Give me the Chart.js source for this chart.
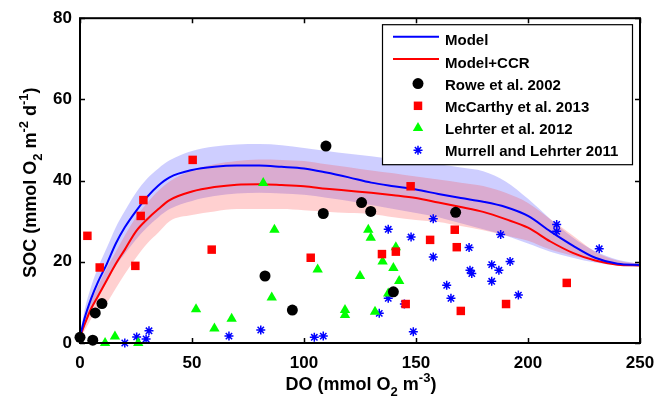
<!DOCTYPE html>
<html><head><meta charset="utf-8">
<script src="https://cdn.jsdelivr.net/npm/chart.js@4.4.1/dist/chart.umd.min.js"></script>
<style>html,body{margin:0;padding:0;background:#fff;}#wrap{position:relative;width:667px;height:401px;}</style>
</head><body><div id="wrap"><canvas id="c" width="667" height="401"></canvas></div>
<script>
// ---------- data ----------
const modelDO     = [0, 2, 5, 8, 12, 16, 20, 25, 30, 35, 40, 50, 60, 70, 80, 90, 100, 110, 120, 130, 140, 150, 160, 170, 180, 190, 200, 210, 220, 230, 240, 250];
const modelSOC    = [1.5, 6, 11, 15, 19.5, 24.5, 28.5, 32.5, 36, 38.8, 40.8, 42.6, 43.4, 43.7, 43.7, 43.4, 43, 42, 40.8, 39.5, 38.6, 37.8, 36.7, 35.7, 34.8, 33.5, 31.3, 27.5, 24, 21, 19.5, 19.2];
const modelHi     = [2, 8, 14, 18.5, 23.5, 28.5, 32.5, 37, 40.5, 43, 45, 47.3, 48.4, 48.9, 49, 48.7, 48, 47.3, 46.6, 46, 45.3, 44.6, 44, 43.2, 42.3, 39.8, 35.5, 30.5, 26, 22.6, 20.5, 19.5];
const modelLo     = [1, 4, 8, 11, 15, 19, 22, 25.5, 28.5, 31, 33, 35, 36.2, 36.8, 37, 36.8, 36.5, 35.8, 35, 34, 33, 32, 31, 29.5, 28, 26.5, 24.5, 22.5, 21, 19.8, 19.1, 18.8];
const ccrSOC      = [1.5, 4.5, 8.5, 11.5, 15.5, 19.5, 23, 27.5, 30.5, 33, 35.2, 37.3, 38.4, 39, 39.1, 38.9, 38.6, 38, 37.5, 37, 36.4, 35.7, 34.6, 33.5, 32.3, 30.5, 28.4, 25, 22.2, 20.3, 19.3, 19.1];
const ccrHi       = [2, 6, 10.5, 14, 18.5, 22.5, 26.5, 31, 34.5, 37.5, 39.8, 42.5, 44, 44.8, 45.2, 45.1, 44.8, 44, 43.3, 42.5, 41.8, 41, 40.3, 39.5, 38.7, 37, 34.5, 30.5, 26.5, 22.5, 20.3, 19.5];
const ccrLo       = [1, 3, 6, 8.5, 10, 13.5, 17, 21, 24.5, 27.2, 30, 31.5, 32.4, 33, 33, 33, 32.7, 32.3, 32, 31.8, 31, 30.3, 29.8, 28.8, 27.8, 26.5, 25.2, 23, 21.5, 20.5, 19.4, 19];

const roweDO      = [0, 5.7, 6.8, 9.8, 82.6, 94.8, 109.8, 108.6, 125.7, 129.8, 139.9, 167.7];
const roweSOC     = [1.4, 0.7, 7.4, 9.7, 16.5, 8.1, 48.5, 31.9, 34.6, 32.4, 12.6, 32.2];
const mccarthyDO  = [3.3, 8.8, 24.7, 27.1, 28.3, 50.3, 58.8, 103, 134.8, 141, 145.4, 147.6, 156.3, 167.3, 168.2, 170, 190.2, 217.3];
const mccarthySOC = [26.4, 18.6, 19, 31.3, 35.2, 45.1, 23, 21, 21.9, 22.5, 9.6, 38.6, 25.4, 27.9, 23.6, 7.9, 9.6, 14.8];
const lehrterDO   = [11.2, 15.6, 26, 51.8, 60, 67.7, 81.8, 86.8, 85.6, 106.1, 118.3, 118.3, 125, 128.7, 129.8, 131.7, 135.1, 137.6, 139.9, 141, 142.5];
const lehrterSOC  = [0, 1.6, 0, 8.3, 3.6, 6, 39.4, 27.9, 11.2, 18.1, 8.1, 6.9, 16.5, 27.9, 25.9, 7.7, 20.1, 12.2, 18.5, 23.6, 15.3];
const murrellDO   = [20, 25.3, 29.5, 30.8, 66.5, 80.7, 104.6, 108.6, 133.6, 137.6, 137.6, 144.8, 147.8, 148.8, 157.7, 157.7, 163.7, 165.6, 173.7, 174.1, 174.9, 183.8, 183.8, 187, 187.8, 192, 195.7, 212.8, 212.8, 231.8];
const murrellSOC  = [0, 1.5, 1, 3, 1.7, 3.2, 1.4, 1.7, 7.3, 11, 28, 9.6, 26.1, 2.8, 30.6, 21.2, 14.2, 11, 23.5, 17.9, 17.1, 19.3, 15.2, 17.9, 26.7, 20.1, 11.8, 29.2, 27.5, 23.2];

const xTicks = [0, 50, 100, 150, 200, 250];
const yTicks = [0, 20, 40, 60, 80];
const xTitle = [{t: 'DO (mmol O'}, {t: '2', sub: true}, {t: ' m'}, {t: '-3', sup: true}, {t: ')'}];
const yTitle = [{t: 'SOC (mmol O'}, {t: '2', sub: true}, {t: ' m'}, {t: '-2', sup: true}, {t: ' d'}, {t: '-1', sup: true}, {t: ')'}];

// ---------- helpers ----------
const FONT = "'Liberation Sans', Arial, Helvetica, sans-serif";
const pts = (xs, ys) => xs.map((x, i) => ({x: x, y: ys[i]}));

function drawRich(ctx, segs, size, x, y) {
  let w = 0;
  const parts = segs.map(s => {
    const fs = (s.sub || s.sup) ? Math.round(size * 0.72) : size;
    ctx.font = 'bold ' + fs + 'px ' + FONT;
    const mw = ctx.measureText(s.t).width;
    w += mw;
    return {s: s, fs: fs, mw: mw};
  });
  let cx = x - w / 2;
  ctx.textAlign = 'left';
  ctx.textBaseline = 'alphabetic';
  parts.forEach(p => {
    ctx.font = 'bold ' + p.fs + 'px ' + FONT;
    const dy = p.s.sub ? size * 0.32 : (p.s.sup ? -size * 0.45 : 0);
    ctx.fillText(p.s.t, cx, y + dy);
    cx += p.mw;
  });
}

function drawMarker(ctx, ds, x, y) {
  const opts = {pointStyle: ds.pointStyle, radius: ds.pointRadius, rotation: 0, borderWidth: ds.borderWidth || 0};
  ctx.save();
  ctx.fillStyle = ds.backgroundColor;
  ctx.strokeStyle = ds.borderColor;
  ctx.lineWidth = ds.borderWidth || 0;
  Chart.helpers.drawPoint(ctx, opts, x, y);
  ctx.restore();
}

const framePlugin = {
  id: 'frame',
  afterDraw(chart) {
    const ctx = chart.ctx, a = chart.chartArea;
    const xs = chart.scales.x, ys = chart.scales.y;
    ctx.save();
    ctx.strokeStyle = '#000';
    // inward ticks
    ctx.lineWidth = 1.5;
    ctx.beginPath();
    xTicks.forEach(v => {
      const p = Math.round(xs.getPixelForValue(v)) + 0.5;
      ctx.moveTo(p, a.bottom); ctx.lineTo(p, a.bottom - 5);
      ctx.moveTo(p, a.top); ctx.lineTo(p, a.top + 5);
    });
    yTicks.forEach(v => {
      const p = Math.round(ys.getPixelForValue(v)) + 0.5;
      ctx.moveTo(a.left, p); ctx.lineTo(a.left + 5, p);
      ctx.moveTo(a.right, p); ctx.lineTo(a.right - 5, p);
    });
    ctx.stroke();
    // box
    ctx.lineWidth = 2;
    ctx.strokeRect(a.left, a.top, a.right - a.left, a.bottom - a.top);

    // axis titles
    ctx.fillStyle = '#000';
    drawRich(ctx, xTitle, 18, (a.left + a.right) / 2 + 1, 390);
    ctx.save();
    ctx.translate(36, (a.top + a.bottom) / 2 + 2);
    ctx.rotate(-Math.PI / 2);
    drawRich(ctx, yTitle, 18, 0, 0);
    ctx.restore();

    // legend
    const items = chart.data.datasets.filter(d => d.inLegend);
    const bx = a.right - 258, by = a.top + 6, bw = 250, bh = 140;
    ctx.fillStyle = '#fff';
    ctx.fillRect(bx, by, bw, bh);
    ctx.lineWidth = 1.2;
    ctx.strokeStyle = '#000';
    ctx.strokeRect(bx + 0.5, by + 0.5, bw, bh);
    items.forEach((d, i) => {
      const rowY = by + 17 + i * 22.2;
      if (d.showLine) {
        ctx.strokeStyle = d.borderColor;
        ctx.lineWidth = 2;
        ctx.beginPath();
        ctx.moveTo(bx + 11, rowY - 4.5);
        ctx.lineTo(bx + 57, rowY - 4.5);
        ctx.stroke();
      } else {
        drawMarker(ctx, d, bx + 36, rowY - 2);
      }
      ctx.fillStyle = '#000';
      ctx.font = 'bold 15px ' + FONT;
      ctx.textAlign = 'left';
      ctx.textBaseline = 'middle';
      ctx.fillText(d.label, bx + 63, rowY);
    });
    ctx.restore();
  }
};

const bandBlue = 'rgba(60,60,255,0.25)';
const bandRed = 'rgba(255,60,60,0.24)';
const band = (label, data, fill, color, order) => ({
  label: label, data: data, showLine: true, fill: fill, backgroundColor: color,
  borderWidth: 0, borderColor: 'rgba(0,0,0,0)', pointRadius: 0, order: order, inLegend: false,
  cubicInterpolationMode: 'monotone'
});

new Chart(document.getElementById('c'), {
  type: 'scatter',
  data: {
    datasets: [
      {label: 'Model', data: pts(modelDO, modelSOC), showLine: true, borderColor: '#0000ff', backgroundColor: '#0000ff', borderWidth: 2, pointRadius: 0, order: 2, inLegend: true, cubicInterpolationMode: 'monotone'},
      {label: 'Model+CCR', data: pts(modelDO, ccrSOC), showLine: true, borderColor: '#ff0000', backgroundColor: '#ff0000', borderWidth: 2, pointRadius: 0, order: 3, inLegend: true, cubicInterpolationMode: 'monotone'},
      {label: 'Rowe et al. 2002', data: pts(roweDO, roweSOC), pointStyle: 'circle', pointRadius: 5.5, backgroundColor: '#000', borderColor: '#000', borderWidth: 0, order: 0, clip: false, inLegend: true},
      {label: 'McCarthy et al. 2013', data: pts(mccarthyDO, mccarthySOC), pointStyle: 'rect', pointRadius: 6, backgroundColor: '#ff0000', borderColor: '#ff0000', borderWidth: 0, order: 0, clip: false, inLegend: true},
      {label: 'Lehrter et al. 2012', data: pts(lehrterDO, lehrterSOC), pointStyle: 'triangle', pointRadius: 6, backgroundColor: '#00ff00', borderColor: '#00ff00', borderWidth: 0, order: 0, clip: false, inLegend: true},
      {label: 'Murrell and Lehrter 2011', data: pts(murrellDO, murrellSOC), pointStyle: 'star', pointRadius: 4.5, backgroundColor: '#0000ff', borderColor: '#0000ff', borderWidth: 1.5, order: 0, clip: false, inLegend: true},
      band('Model upper', pts(modelDO, modelHi), '+1', bandBlue, 6),
      band('Model lower', pts(modelDO, modelLo), false, bandBlue, 6),
      band('Model+CCR upper', pts(modelDO, ccrHi), '+1', bandRed, 5),
      band('Model+CCR lower', pts(modelDO, ccrLo), false, bandRed, 5)
    ]
  },
  options: {
    responsive: false,
    animation: false,
    devicePixelRatio: 1,
    layout: {padding: {left: 0, right: 27, top: 17, bottom: 0}},
    plugins: {legend: {display: false}, tooltip: {enabled: false}},
    scales: {
      x: {
        type: 'linear', min: 0, max: 250,
        grid: {display: false, drawTicks: false},
        border: {display: false},
        ticks: {stepSize: 50, padding: 10, color: '#000', font: {family: FONT, size: 17, weight: 'bold'}},
        afterFit(s) { s.height = 58; }
      },
      y: {
        type: 'linear', min: 0, max: 80,
        grid: {display: false, drawTicks: false},
        border: {display: false},
        ticks: {stepSize: 20, padding: 8, color: '#000', font: {family: FONT, size: 17, weight: 'bold'}},
        afterFit(s) { s.width = 80; }
      }
    }
  },
  plugins: [framePlugin]
});
</script>
</body></html>
